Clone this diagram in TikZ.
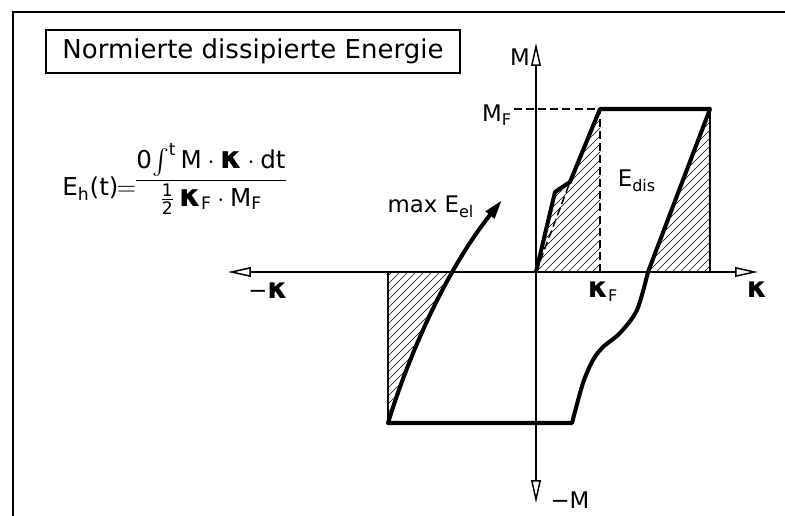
\documentclass[tikz,border=0pt]{standalone}
\usepackage{amsmath}
\usepackage{fontspec}
\setmainfont{DejaVu Sans}
\usetikzlibrary{arrows.meta}

\tikzset{
  thinline/.style={line width=0.85pt},
  thickline/.style={line width=2.3pt, line join=round},
  dashline/.style={line width=0.85pt, dash pattern=on 4.5pt off 2.4pt},
  axis/.style={thinline, -{Triangle[open,length=13pt,width=5.5pt]}},
  hatchline/.style={line width=0.4pt},
  lbl/.style={font=\fontsize{13}{15}\selectfont, inner sep=1pt},
}
% diagonal hatching, used inside a clipped scope
\newcommand{\hatchlines}{\foreach \i in {400,408,...,1140} \draw[hatchline] (\i,0) -- ++(-520,520);}
\newcommand{\bk}{\scalebox{1.25}{\textbf{κ}}}

\begin{document}
\begin{tikzpicture}[x=0.02cm, y=-0.02cm]
  \useasboundingbox (0,0) rectangle (785,516);

  % frame
  \coordinate (F1) at (13,516);
  \coordinate (F2) at (13,12);
  \coordinate (F3) at (785,12);
  \draw[line width=1.6pt] (F1) -- (F2) -- (F3);

  % title and formula
  \node[draw, thinline, minimum width=8.28cm, minimum height=0.86cm,
        font=\fontsize{14.8}{17}\selectfont] (title) at (253,51.5) {Normierte dissipierte Energie};
  \node[anchor=base west, inner sep=0pt, font=\fontsize{14}{16}\selectfont] (formula) at (62,196)
    {E\textsubscript{h}(t)\kern-1pt$=$\kern-1pt\raisebox{5.5pt}{$\dfrac{\text{0}\!\int^{\text{t}}\text{M}\cdot\text{\bk}\cdot\text{dt}}
     {\frac{\text{1}}{\text{2}}\,\text{\bk}_{\text{F}}\cdot\text{M}_{\text{F}}}$}};

  % points
  \coordinate (O) at (536,272);
  \coordinate (Xr) at (758,272);
  \coordinate (Xl) at (228,272);
  \coordinate (Yt) at (536,43);
  \coordinate (Yb) at (536,503);
  \coordinate (K1) at (555,192);
  \coordinate (K2) at (570,182);
  \coordinate (Kf) at (600,109);
  \coordinate (Kfa) at (600,272);
  \coordinate (Rt) at (710,109);
  \coordinate (Ra) at (710,272);
  \coordinate (C) at (648,272);
  \coordinate (A) at (388,423);
  \coordinate (Aa) at (388,272);
  \coordinate (Tip) at (502,200);
  \coordinate (MFt) at (514,109);

  % hatched areas
  \begin{scope}
    \clip (Aa) rectangle (560,423);
    \clip (A) .. controls (412,345) and (450,265) .. (Tip) -- (388,200) -- cycle;
    \hatchlines
  \end{scope}
  \begin{scope}
    \clip (O) -- (K1) -- (K2) -- (Kf) -- (Kfa) -- cycle;
    \hatchlines
  \end{scope}
  \begin{scope}
    \clip (C) -- (Rt) -- (Ra) -- cycle;
    \hatchlines
  \end{scope}

  % axes
  \draw[axis] (O) -- (Xr);
  \draw[axis] (O) -- (Xl);
  \draw[axis] (O) -- (Yt);
  \draw[axis] (O) -- (Yb);

  % thin and dashed lines
  \draw[thinline] (Ra) -- (Rt);
  \draw[thinline] (Aa) -- (A);
  \draw[dashline] (Kfa) -- (Kf);
  \draw[dashline] (MFt) -- (Kf);
  \draw[dashline] (O) -- (K2);

  % hysteresis
  \draw[thickline, -{Triangle[length=11pt,width=6pt]}] (O) -- (K1) -- (K2) -- (Kf) -- (Rt)
    -- plot[smooth] coordinates {(648,272) (637,310) (620,333) (603,347) (593,360) (583,383) (572,423)}
    -- (A) .. controls (412,345) and (450,265) .. (Tip);

  % labels
  \node[lbl] (Mlab) at (520,57) {M};
  \node[lbl] (mMlab) at (570,500) {−M};
  \node[lbl, anchor=east] (MFlab) at (514,115) {M\textsubscript{F}};
  \node[lbl] (kFlab) at (603,292) {\bk\textsubscript{F}};
  \node[lbl] (klab) at (757,290) {\bk};
  \node[lbl] (mklab) at (268,291) {−\bk};
  \node[lbl] (Edis) at (637,181) {E\textsubscript{dis}};
  \node[lbl] (Eel) at (431,207) {max E\textsubscript{el}};
\end{tikzpicture}
\end{document}
